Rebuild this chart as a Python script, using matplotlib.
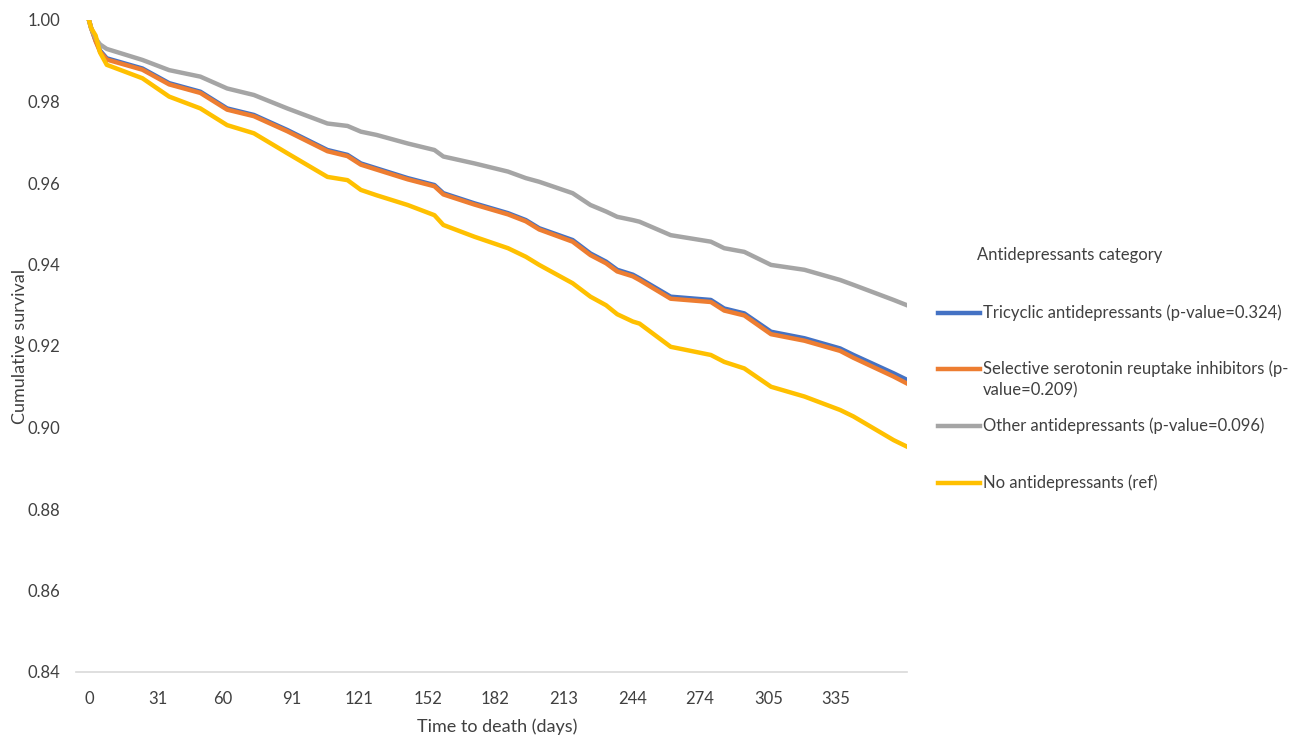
import matplotlib.pyplot as plt
from matplotlib.lines import Line2D

plt.rcParams['font.family'] = ['Lato', 'DejaVu Sans']

days = [0, 1, 3, 5, 8, 24, 36, 50, 62, 74, 89, 107, 116, 122, 129, 143, 155, 159, 173,
        188, 196, 202, 217, 225, 232, 237, 244, 247, 261, 279, 285, 294, 306, 321, 337,
        343, 361, 367]

tricyclic = [1.0, 0.998, 0.995, 0.9925, 0.9906, 0.9881, 0.9845, 0.9824, 0.9783, 0.9767,
             0.9730, 0.9681, 0.9669, 0.9648, 0.9636, 0.9612, 0.9595, 0.9575, 0.9550,
             0.9526, 0.9509, 0.9489, 0.9460, 0.9427, 0.9407, 0.9387, 0.9375, 0.9366,
             0.9321, 0.9313, 0.9292, 0.9280, 0.9235, 0.9219, 0.9194, 0.9178, 0.9133, 0.9117]
ssri = [1.0, 0.998, 0.9948, 0.9922, 0.9903, 0.9878, 0.9842, 0.9821, 0.9780, 0.9764,
        0.9727, 0.9678, 0.9666, 0.9645, 0.9633, 0.9609, 0.9592, 0.9572, 0.9547,
        0.9523, 0.9506, 0.9486, 0.9456, 0.9423, 0.9403, 0.9383, 0.9371, 0.9362,
        0.9316, 0.9308, 0.9287, 0.9275, 0.9229, 0.9213, 0.9188, 0.9171, 0.9125, 0.9108]
other = [1.0, 0.998, 0.9955, 0.9940, 0.9929, 0.9902, 0.9877, 0.9861, 0.9832, 0.9816,
         0.9783, 0.9746, 0.9740, 0.9726, 0.9718, 0.9697, 0.9681, 0.9665, 0.9648,
         0.9628, 0.9612, 0.9603, 0.9575, 0.9546, 0.9530, 0.9517, 0.9509, 0.9505,
         0.9472, 0.9456, 0.9440, 0.9431, 0.9399, 0.9387, 0.9362, 0.9350, 0.9313, 0.9300]
none = [1.0, 0.998, 0.9962, 0.992, 0.989, 0.9857, 0.9812, 0.9783, 0.9742, 0.9722,
        0.9673, 0.9615, 0.9607, 0.9583, 0.9570, 0.9546, 0.9521, 0.9497, 0.9468,
        0.9440, 0.9419, 0.9399, 0.9354, 0.9321, 0.9300, 0.9278, 0.9260, 0.9255,
        0.9198, 0.9178, 0.9161, 0.9145, 0.9100, 0.9076, 0.9043, 0.9027, 0.8969, 0.8953]

labels = ['Tricyclic antidepressants (p-value=0.324)',
          'Selective serotonin reuptake inhibitors (p-\nvalue=0.209)',
          'Other antidepressants (p-value=0.096)',
          'No antidepressants (ref)']
colors = ['#4472C4', '#ED7D31', '#A5A5A5', '#FFC000']
xticks = [0, 31, 60, 91, 121, 152, 182, 213, 244, 274, 305, 335]
yticks = [0.84, 0.86, 0.88, 0.90, 0.92, 0.94, 0.96, 0.98, 1.00]

W, H = 1308, 738
fig = plt.figure(figsize=(W / 100, H / 100), dpi=100)
ax = fig.add_axes([76 / W, 1 - 672 / H, (907 - 76) / W, (672 - 20) / H])

for ys, c in zip([tricyclic, ssri, other, none], colors):
    ax.plot(days, ys, color=c, lw=3.2, solid_joinstyle='round')

ax.set_xlim(-5.8, 367)
ax.set_ylim(0.84, 1.0)
ax.set_xticks(xticks)
ax.set_yticks(yticks)
ax.set_yticklabels([f'{v:.2f}' for v in yticks])
ax.tick_params(length=0, labelsize=12, colors='#404040')
ax.tick_params(axis='x', pad=14)
ax.tick_params(axis='y', pad=11)
for s in ['top', 'right', 'left']:
    ax.spines[s].set_visible(False)
ax.spines['bottom'].set_color('#D9D9D9')
ax.spines['bottom'].set_linewidth(1.2)
ax.set_xlabel('Time to death (days)', fontsize=13, color='#404040')
ax.set_ylabel('Cumulative survival', fontsize=13, color='#404040')
ax.xaxis.set_label_coords((497 - 76) / (907 - 76), -(727 - 672) / (672 - 20))
ax.yaxis.set_label_coords(-(76 - 28) / (907 - 76), 0.5)
ax.xaxis.label.set_va('center')

# legend drawn by hand to match spacing
fig.text(977 / W, 1 - 255 / H, 'Antidepressants category', fontsize=12,
         color='#404040', va='center')
ys_leg = [313, 369, 426, 483]
for y, c, lab in zip(ys_leg, colors, labels):
    fig.add_artist(Line2D([938 / W, 980 / W], [1 - y / H, 1 - y / H], color=c, lw=3.2))
    fig.text(983 / W, 1 - (y - 9) / H, lab, fontsize=12, color='#404040',
             va='top', linespacing=1.45)

fig.savefig('out.png', dpi=100)
